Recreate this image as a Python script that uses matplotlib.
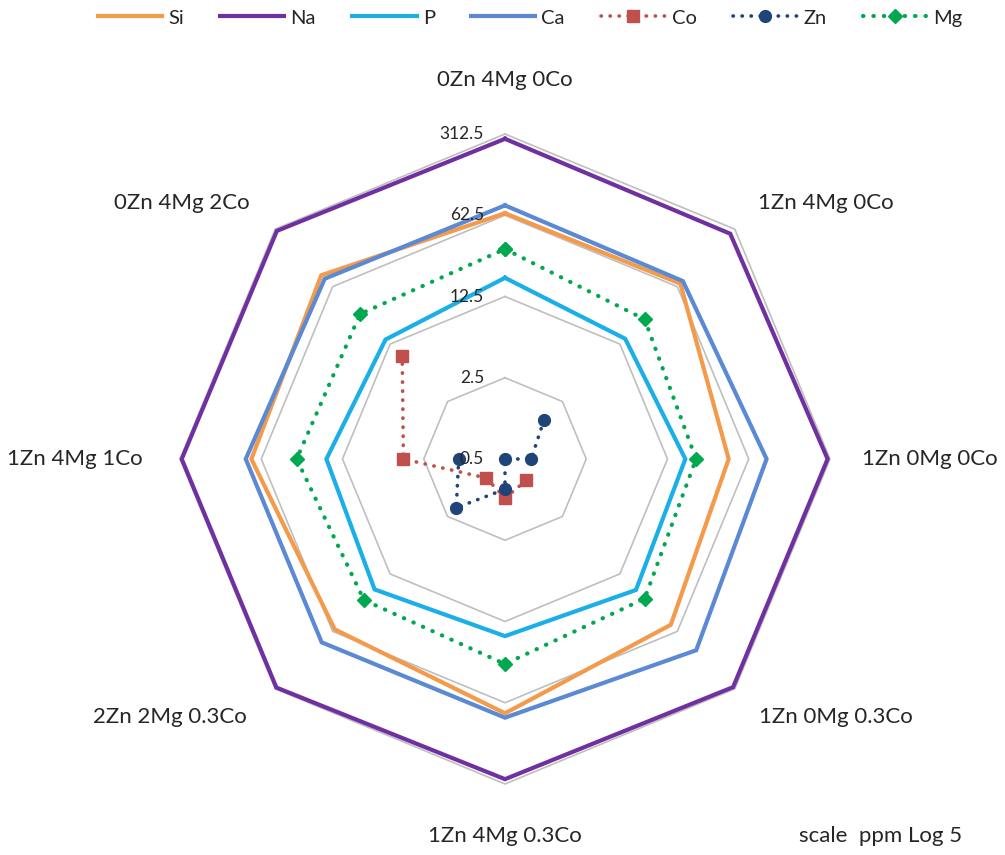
import numpy as np
import matplotlib
matplotlib.use("Agg")
import matplotlib.pyplot as plt
from matplotlib.ticker import NullLocator
from matplotlib.lines import Line2D

plt.rcParams['font.family'] = ['Lato', 'DejaVu Sans']

# Element concentrations (ppm) per sample composition
categories = ["0Zn 4Mg 0Co", "1Zn 4Mg 0Co", "1Zn 0Mg 0Co", "1Zn 0Mg 0.3Co",
              "1Zn 4Mg 0.3Co", "2Zn 2Mg 0.3Co", "1Zn 4Mg 1Co", "0Zn 4Mg 2Co"]
si = [65, 68, 42, 52, 77, 59, 76, 86]
na = [284, 275, 298, 298, 284, 302, 302, 298]
p = [18.1, 14.5, 17.8, 19.6, 16.7, 19.3, 17.2, 14.2]
ca = [76, 73, 89, 106, 84, 85, 85, 78]
co = [np.nan, np.nan, np.nan, 0.91, 1.08, 0.85, 3.74, 8.9]
zn = [np.nan, 1.49, 0.84, 0.5, 0.91, 1.96, 1.25, np.nan]
mg = [32, 25, 22, 25, 29, 26, 31, 29]

ring_values = [0.5, 2.5, 12.5, 62.5, 312.5]
ring_labels = ["0.5", "2.5", "12.5", "62.5", "312.5"]

W, H = 1005, 855
fig = plt.figure(figsize=(W / 100, H / 100), dpi=100)
cx, cy, R = 505, 459, 325
ax = fig.add_axes([(cx - R) / W, (H - cy - R) / H, 2 * R / W, 2 * R / H],
                  projection='polar')
ax.set_theta_zero_location('N')
ax.set_theta_direction(-1)
ax.set_rscale('log', base=5)
ax.set_rlim(ring_values[0], ring_values[-1])
ax.set_xticks([])
ax.set_yticks([])
ax.yaxis.set_minor_locator(NullLocator())
ax.grid(False)
ax.spines['polar'].set_visible(False)
ax.patch.set_alpha(0)

n = len(categories)
theta = np.arange(n) * 2 * np.pi / n
theta_c = np.append(theta, theta[0])


def closed(vals):
    return np.append(vals, vals[0])


# octagonal grid rings
for rv in ring_values[1:]:
    ax.plot(theta_c, [rv] * (n + 1), color='#BFBFBF', lw=1.2, zorder=1,
            clip_on=False)

text_color = '#262626'
for rv, lab in zip(ring_values, ring_labels):
    ax.annotate(lab, xy=(0, rv), xytext=(-21, 0), textcoords='offset pixels',
                ha='right', va='center', fontsize=12.5, color=text_color,
                zorder=6)

solid = dict(lw=3.0, solid_joinstyle='miter', clip_on=False)
ax.plot(theta_c, closed(si), color='#F39A4B', zorder=3, **solid)
ax.plot(theta_c, closed(na), color='#7030A0', zorder=3, **solid)
ax.plot(theta_c, closed(p), color='#1AAFE6', zorder=3, **solid)
ax.plot(theta_c, closed(ca), color='#5B8AD4', zorder=3, **solid)

dots = (0, (0.1, 2.4))
ax.plot(theta, co, color='#C0504D', lw=2.6, linestyle=dots,
        dash_capstyle='round', marker='s', markersize=8.5, zorder=4,
        clip_on=False)
ax.plot(theta, zn, color='#1F4478', lw=2.6, linestyle=dots,
        dash_capstyle='round', marker='o', markersize=8.5, zorder=5,
        clip_on=False)
ax.plot(theta_c, closed(mg), color='#00A94F', lw=3.0, linestyle=dots,
        dash_capstyle='round', marker='D', markersize=7.5, zorder=4,
        clip_on=False)

# category labels outside the outer ring
offsets = [(0, 54), (91, 26), (100, 0), (101, -28),
           (0, -52), (-105, -28), (-105, 0), (-93, 26)]
for t, lab, (dx, dy) in zip(theta, categories, offsets):
    ax.annotate(lab, xy=(t, ring_values[-1]), xytext=(dx, dy),
                textcoords='offset pixels', ha='center', va='center',
                fontsize=16, color=text_color, annotation_clip=False)

fig.text(881 / W, 1 - 836 / H, "scale  ppm Log 5", ha='center', va='center',
         fontsize=16, color=text_color)

handles = [
    Line2D([], [], color='#F39A4B', lw=3),
    Line2D([], [], color='#7030A0', lw=3),
    Line2D([], [], color='#1AAFE6', lw=3),
    Line2D([], [], color='#5B8AD4', lw=3),
    Line2D([], [], color='#C0504D', lw=2.6, linestyle=dots,
           dash_capstyle='round', marker='s', markersize=8.5),
    Line2D([], [], color='#1F4478', lw=2.6, linestyle=dots,
           dash_capstyle='round', marker='o', markersize=8.5),
    Line2D([], [], color='#00A94F', lw=3.0, linestyle=dots,
           dash_capstyle='round', marker='D', markersize=7.5),
]
fig.legend(handles, ["Si", "Na", "P", "Ca", "Co", "Zn", "Mg"],
           loc='center', bbox_to_anchor=(530 / W, 1 - 18 / H), ncol=7,
           frameon=False, fontsize=14.5, handlelength=3.2,
           handletextpad=0.3, columnspacing=1.8, labelcolor=text_color)

fig.savefig('out.png', dpi=100, facecolor='white')
